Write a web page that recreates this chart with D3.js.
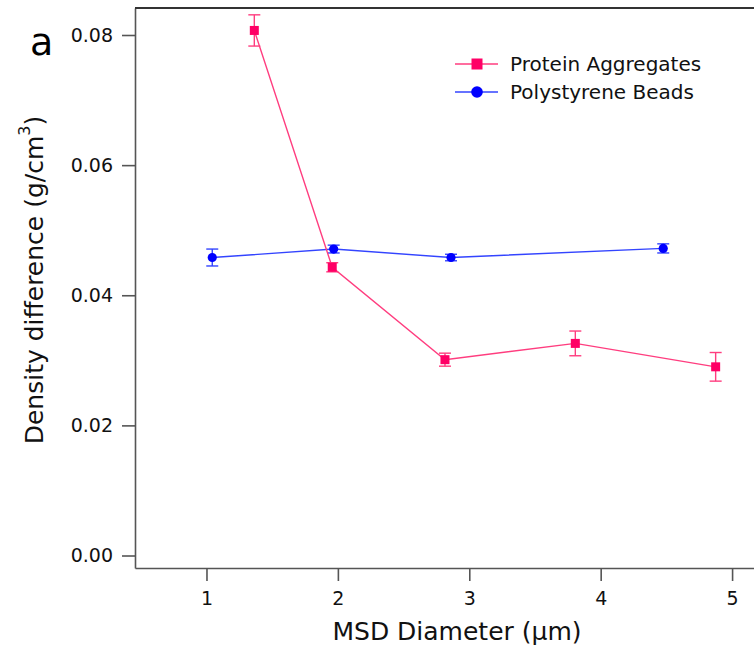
<!DOCTYPE html>
<html>
<head>
<meta charset="utf-8">
<script src="https://cdn.jsdelivr.net/npm/d3@7"></script>
<style>
  body { margin: 0; background: #fff; }
  svg { display: block; font-family: "DejaVu Sans", sans-serif; }
</style>
</head>
<body>
<div id="chart"></div>
<script>
// data
var proteinX = [1.364, 1.957, 2.815, 3.807, 4.875];
var proteinY = [0.0807, 0.0443, 0.0301, 0.0326, 0.0290];
var proteinErr = [0.0024, 0.0007, 0.0010, 0.0019, 0.0022];

var beadsX = [1.044, 1.968, 2.861, 4.476];
var beadsY = [0.0458, 0.0471, 0.0458, 0.0472];
var beadsErr = [0.0013, 0.0006, 0.0005, 0.0007];

var xTicks = [1, 2, 3, 4, 5];
var yTicks = [0, 0.02, 0.04, 0.06, 0.08];

var svgWidth = 754;
var svgHeight = 653;

var margin = { top: 8, right: 0, bottom: 85, left: 135 };
var width = svgWidth - margin.left - margin.right;
var height = svgHeight - margin.top - margin.bottom;

var svg = d3.select("#chart")
  .append("svg")
  .attr("width", svgWidth)
  .attr("height", svgHeight);

var chartGroup = svg.append("g")
  .attr("transform", `translate(${margin.left}, ${margin.top})`);

// scales
var xScale = d3.scaleLinear()
  .domain([0.456, 0.456 + width / 131.4])
  .range([0, width]);

var yScale = d3.scaleLinear()
  .domain([-0.00192, 0.08415])
  .range([height, 0]);

// axes
var bottomAxis = d3.axisBottom(xScale)
  .tickValues(xTicks)
  .tickFormat(d3.format("d"))
  .tickSize(13)
  .tickSizeOuter(0)
  .tickPadding(11);

var leftAxis = d3.axisLeft(yScale)
  .tickValues(yTicks)
  .tickFormat(d3.format(".2f"))
  .tickSize(13)
  .tickSizeOuter(0)
  .tickPadding(9);

var xAxis = chartGroup.append("g")
  .attr("transform", `translate(0, ${height})`)
  .call(bottomAxis);

var yAxis = chartGroup.append("g")
  .call(leftAxis);

[xAxis, yAxis].forEach(function(ax) {
  ax.select(".domain").attr("stroke", "#555").attr("stroke-width", 1.6);
  ax.selectAll(".tick line").attr("stroke", "#555").attr("stroke-width", 1.6);
  ax.selectAll(".tick text")
    .attr("fill", "#111")
    .style("font-size", "19px")
    .style("font-family", "'DejaVu Sans', sans-serif");
});

// top frame line
chartGroup.append("line")
  .attr("x1", 0).attr("x2", width)
  .attr("y1", 0).attr("y2", 0)
  .attr("stroke", "#333")
  .attr("stroke-width", 2);

function drawSeries(xs, ys, errs, lineColor, markColor, shape) {
  var pts = xs.map(function(x, i) { return { x: x, y: ys[i], e: errs[i] }; });
  var g = chartGroup.append("g");

  g.append("path")
    .datum(pts)
    .attr("fill", "none")
    .attr("stroke", lineColor)
    .attr("stroke-width", 1.4)
    .attr("d", d3.line().x(d => xScale(d.x)).y(d => yScale(d.y)));

  // error bars
  var eb = g.selectAll(".err").data(pts).enter().append("g");
  eb.append("line")
    .attr("x1", d => xScale(d.x)).attr("x2", d => xScale(d.x))
    .attr("y1", d => yScale(d.y - d.e)).attr("y2", d => yScale(d.y + d.e))
    .attr("stroke", lineColor).attr("stroke-width", 1.4);
  [-1, 1].forEach(function(s) {
    eb.append("line")
      .attr("x1", d => xScale(d.x) - 6).attr("x2", d => xScale(d.x) + 6)
      .attr("y1", d => yScale(d.y + s * d.e)).attr("y2", d => yScale(d.y + s * d.e))
      .attr("stroke", lineColor).attr("stroke-width", 1.4);
  });

  if (shape === "square") {
    g.selectAll(".mk").data(pts).enter().append("rect")
      .attr("x", d => xScale(d.x) - 4.5)
      .attr("y", d => yScale(d.y) - 4.5)
      .attr("width", 9).attr("height", 9)
      .attr("fill", markColor);
  } else {
    g.selectAll(".mk").data(pts).enter().append("circle")
      .attr("cx", d => xScale(d.x))
      .attr("cy", d => yScale(d.y))
      .attr("r", 4.6)
      .attr("fill", markColor);
  }
}

drawSeries(beadsX, beadsY, beadsErr, "#3344ff", "#0000ff", "circle");
drawSeries(proteinX, proteinY, proteinErr, "#ff3d7f", "#ff0066", "square");

// legend
var legend = svg.append("g");
var legendItems = [
  { name: "Protein Aggregates", line: "#ff3d7f", mark: "#ff0066", shape: "square", y: 64 },
  { name: "Polystyrene Beads", line: "#3344ff", mark: "#0000ff", shape: "circle", y: 92 }
];
legendItems.forEach(function(it) {
  legend.append("line")
    .attr("x1", 455).attr("x2", 498)
    .attr("y1", it.y).attr("y2", it.y)
    .attr("stroke", it.line).attr("stroke-width", 1.4);
  if (it.shape === "square") {
    legend.append("rect")
      .attr("x", 471.5).attr("y", it.y - 5.5)
      .attr("width", 11).attr("height", 11)
      .attr("fill", it.mark);
  } else {
    legend.append("circle")
      .attr("cx", 477).attr("cy", it.y).attr("r", 5.8)
      .attr("fill", it.mark);
  }
  legend.append("text")
    .attr("x", 510).attr("y", it.y + 7)
    .attr("fill", "#111")
    .style("font-size", "20px")
    .text(it.name);
});

// axis titles
svg.append("text")
  .attr("x", 457).attr("y", 640)
  .attr("text-anchor", "middle")
  .attr("fill", "#111")
  .style("font-size", "25px")
  .text("MSD Diameter (\u03bcm)");

var yTitle = svg.append("text")
  .attr("transform", "translate(43, 280) rotate(-90)")
  .attr("text-anchor", "middle")
  .attr("fill", "#111")
  .style("font-size", "25px");
yTitle.append("tspan").text("Density difference (g/cm");
yTitle.append("tspan").attr("dy", -13).style("font-size", "16px").text("3");
yTitle.append("tspan").attr("dy", 13).text(")");

// panel label
svg.append("text")
  .attr("x", 30).attr("y", 55)
  .attr("fill", "#000")
  .style("font-size", "38px")
  .text("a");
</script>
</body>
</html>
